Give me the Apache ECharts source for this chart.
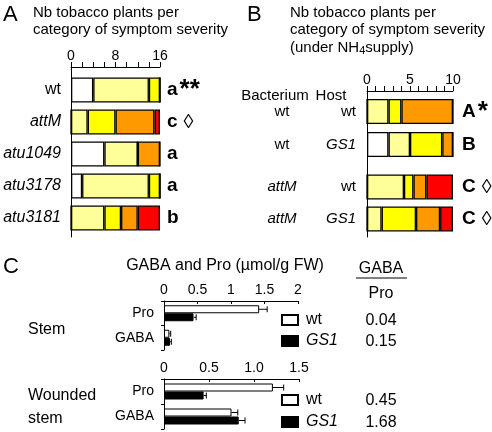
<!DOCTYPE html>
<html><head><meta charset="utf-8">
<script src="https://cdn.jsdelivr.net/npm/echarts@6/dist/echarts.min.js"></script>
<style>html,body{margin:0;padding:0;background:#fff}#c{width:492px;height:432px}</style>
</head><body><div id="c"></div>
<script>
// ---------- Panel A data ----------
const strainsA = ['wt', 'attM', 'atu1049', 'atu3178', 'atu3181'];
const whiteA  = [4, 0, 6, 2, 0];
const lightA  = [10, 3, 6, 12, 6];
const yellowA = [2, 5, 0, 2, 3];
const orangeA = [0, 7, 4, 0, 3];
const redA    = [0, 1, 0, 0, 4];
const lettersA = ['a', 'c', 'a', 'a', 'b'];
const marksA   = ['**', '◊', '', '', ''];
const ticksA = [0, 8, 16];

// ---------- Panel B data ----------
const bacteriumB = ['wt', 'wt', 'attM', 'attM'];
const hostB      = ['wt', 'GS1', 'wt', 'GS1'];
const whiteB  = [0, 2.5, 0, 0];
const lightB  = [2.5, 2.5, 4.3, 1.7];
const yellowB = [1.5, 3.75, 1.1, 4.0];
const orangeB = [6, 1.25, 1.5, 2.8];
const redB    = [0, 0, 3.1, 1.5];
const lettersB = ['A', 'B', 'C', 'C'];
const marksB   = ['*', '', '◊', '◊'];
const ticksB = [0, 5, 10];

// ---------- Panel C data ----------
const metabolites = ['Pro', 'GABA'];
const genotypes = ['wt', 'GS1'];
const stemWt     = [1.42, 0.08];
const stemWtErr  = [0.12, 0.02];
const stemGS1    = [0.44, 0.09];
const stemGS1Err = [0.04, 0.02];
const woundWt     = [1.21, 0.75];
const woundWtErr  = [0.12, 0.07];
const woundGS1    = [0.44, 0.83];
const woundGS1Err = [0.03, 0.07];
const ratioStem  = ['0.04', '0.15'];
const ratioWound = ['0.45', '1.68'];

// ---------- styles ----------
const FONT = '"Liberation Sans", Arial, Helvetica, sans-serif';
const SEV_COLORS = ['#ffffff', '#ffff99', '#ffff00', '#ff9900', '#ff0000'];
const BLACK = '#000';

const chart = echarts.init(document.getElementById('c'), null, {renderer: 'canvas'});

const isGene = s => s !== 'wt';
const hidden = {show: false};
function axisOnlyY(grid) {
  return {type: 'value', gridIndex: grid, min: 0, max: 1,
    axisLine: {show: true, lineStyle: {color: BLACK, width: 1}},
    axisTick: hidden, axisLabel: hidden, splitLine: hidden};
}
function topX(grid, max, interval, labels, tickLen, fmt) {
  return {type: 'value', gridIndex: grid, position: 'top', min: 0, max: max, interval: interval,
    axisLine: {show: true, onZero: false, lineStyle: {color: BLACK, width: 1}},
    axisTick: {show: true, length: tickLen, lineStyle: {color: BLACK, width: 1}},
    axisLabel: {show: true, color: BLACK, fontSize: 14, fontFamily: FONT, margin: 4,
      formatter: fmt || (v => labels.includes(v) ? String(v) : '')},
    splitLine: hidden};
}
function hiddenX(grid, max) {
  return {type: 'value', gridIndex: grid, min: 0, max: max, show: false, splitLine: hidden};
}
const rich = {
  n: {fontSize: 16, fontFamily: FONT, color: BLACK},
  i: {fontSize: 16, fontFamily: FONT, color: BLACK, fontStyle: 'italic'},
  b: {fontSize: 19, fontFamily: FONT, color: BLACK, fontWeight: 'bold'},
  s: {fontSize: 26, fontFamily: FONT, color: BLACK, fontWeight: 'bold', padding: [0, 0, 0, 2]},
  d: {fontSize: 20, fontFamily: FONT, color: BLACK, padding: [0, 0, 0, 6]},
  bac: {width: 44, align: 'center', fontSize: 15, fontFamily: FONT, color: BLACK},
  bacI: {width: 44, align: 'center', fontSize: 15, fontFamily: FONT, color: BLACK, fontStyle: 'italic'},
  host: {width: 52, align: 'right', fontSize: 15, fontFamily: FONT, color: BLACK},
  hostI: {width: 52, align: 'right', fontSize: 15, fontFamily: FONT, color: BLACK, fontStyle: 'italic'}
};
function markText(letter, mark) {
  let t = `{b|${letter}}`;
  if (mark === '◊') t += `{d|◊}`;
  else if (mark) t += `{s|${mark}}`;
  return t;
}
function rowB(k) {
  return `{${isGene(bacteriumB[k]) ? 'bacI' : 'bac'}|${bacteriumB[k]}}{${isGene(hostB[k]) ? 'hostI' : 'host'}|${hostB[k]}}`;
}
function catY(grid, cats, pos, fmt, margin) {
  return {type: 'category', gridIndex: grid, data: cats, inverse: true, position: pos,
    axisLine: hidden, axisTick: hidden, splitLine: hidden,
    axisLabel: {show: true, margin: margin, formatter: fmt, rich: rich, color: BLACK}};
}

const grids = [
  {left: 71, top: 67, width: 89, height: 170},   // 0 A axes
  {left: 71, top: 74, width: 89, height: 160},   // 1 A bars
  {left: 367, top: 91, width: 86, height: 146},  // 2 B axes
  {left: 367, top: 95, width: 86, height: 66},   // 3 B bars rows 0-1
  {left: 367, top: 171, width: 86, height: 64},  // 4 B bars rows 2-3
  {left: 164, top: 301, width: 134, height: 49}, // 5 C stem
  {left: 164, top: 379, width: 135, height: 50}  // 6 C wounded
].map(g => Object.assign({outerBoundsMode: 'none', containLabel: false}, g));

const xAxis = [
  topX(0, 16, 2, ticksA, 5),
  hiddenX(1, 16),
  topX(2, 10, 1, ticksB, 5),
  hiddenX(3, 10),
  hiddenX(4, 10),
  topX(5, 2, 0.5, null, 3, v => String(v)),
  topX(6, 1.5, 0.5, null, 3, v => v === 0 ? '0' : v.toFixed(1))
];
xAxis[5].axisTick.inside = true;
xAxis[6].axisTick.inside = true;

const rowsB0 = ['r0', 'r1'], rowsB1 = ['r2', 'r3'];
function metY(grid) {
  return {type: 'category', gridIndex: grid, data: metabolites, inverse: true,
    axisLine: {show: true, lineStyle: {color: BLACK, width: 1}},
    axisTick: {show: true, length: 3, lineStyle: {color: BLACK}},
    axisLabel: {show: true, color: BLACK, fontSize: 14, fontFamily: FONT, margin: 10},
    splitLine: hidden};
}
const yAxis = [
  axisOnlyY(0),                                                                      // 0
  catY(1, strainsA, 'left', v => isGene(v) ? `{i|${v}}` : `{n|${v}}`, 10),            // 1
  catY(1, strainsA, 'right', (v, i) => markText(lettersA[i], marksA[i]), 7),         // 2
  axisOnlyY(2),                                                                      // 3
  catY(3, rowsB0, 'left', (v, i) => rowB(i), 11),                                    // 4
  catY(3, rowsB0, 'right', (v, i) => markText(lettersB[i], marksB[i]), 9),           // 5
  catY(4, rowsB1, 'left', (v, i) => rowB(i + 2), 11),                                // 6
  catY(4, rowsB1, 'right', (v, i) => markText(lettersB[i + 2], marksB[i + 2]), 9),   // 7
  metY(5),                                                                           // 8
  metY(6)                                                                            // 9
];

const series = [];
[whiteA, lightA, yellowA, orangeA, redA].forEach((arr, k) => series.push({
  type: 'bar', name: 'A' + k, xAxisIndex: 1, yAxisIndex: 1, stack: 'A', barWidth: 25,
  data: arr, silent: true,
  itemStyle: {color: SEV_COLORS[k], borderColor: BLACK, borderWidth: 1.3}
}));
[whiteB, lightB, yellowB, orangeB, redB].forEach((arr, k) => {
  series.push({type: 'bar', name: 'B' + k, xAxisIndex: 3, yAxisIndex: 4, stack: 'B1', barWidth: 25,
    data: arr.slice(0, 2), silent: true,
    itemStyle: {color: SEV_COLORS[k], borderColor: BLACK, borderWidth: 1.3}});
  series.push({type: 'bar', name: 'B' + k, xAxisIndex: 4, yAxisIndex: 6, stack: 'B2', barWidth: 25,
    data: arr.slice(2, 4), silent: true,
    itemStyle: {color: SEV_COLORS[k], borderColor: BLACK, borderWidth: 1.3}});
});
function cBar(name, x, y, vals, fill) {
  return {type: 'bar', name: name, xAxisIndex: x, yAxisIndex: y, barWidth: 8, barGap: '0%',
    data: vals, silent: true,
    itemStyle: {color: fill, borderColor: BLACK, borderWidth: 1}};
}
function errSeries(x, y, vals, errs, offset) {
  return {type: 'custom', xAxisIndex: x, yAxisIndex: y, silent: true, z: 3,
    data: vals.map((v, i) => [v, i, v + errs[i]]),
    encode: {x: [0, 2], y: 1},
    renderItem(params, api) {
      const p0 = api.coord([api.value(0), api.value(1)]);
      const p1 = api.coord([api.value(2), api.value(1)]);
      const yy = p0[1] + offset;
      return {type: 'group', children: [
        {type: 'line', shape: {x1: p0[0], y1: yy, x2: p1[0], y2: yy}, style: {stroke: BLACK, lineWidth: 1}},
        {type: 'line', shape: {x1: p1[0], y1: yy - 3, x2: p1[0], y2: yy + 3}, style: {stroke: BLACK, lineWidth: 1}}
      ]};
    }};
}
series.push(cBar(genotypes[0], 5, 8, stemWt, '#fff'));
series.push(cBar(genotypes[1], 5, 8, stemGS1, '#000'));
series.push(errSeries(5, 8, stemWt, stemWtErr, -4));
series.push(errSeries(5, 8, stemGS1, stemGS1Err, 4));
series.push(cBar(genotypes[0], 6, 9, woundWt, '#fff'));
series.push(cBar(genotypes[1], 6, 9, woundGS1, '#000'));
series.push(errSeries(6, 9, woundWt, woundWtErr, -4));
series.push(errSeries(6, 9, woundGS1, woundGS1Err, 4));

function legendAt(top, name) {
  return {show: true, left: 281, top: top, orient: 'horizontal', padding: 0,
    itemWidth: 16, itemHeight: 10, icon: 'rect', selectedMode: false, data: [name],
    formatter: n => isGene(n) ? `{i|${n}}` : `{n|${n}}`,
    textStyle: {color: BLACK, fontSize: 16, fontFamily: FONT, padding: [0, 0, 0, 3], rich: rich}};
}

function txt(x, y, text, size, opts) {
  return Object.assign({type: 'text', x: x, y: y, silent: true,
    style: Object.assign({text: text, fontSize: size, fontFamily: FONT, fill: BLACK,
      textAlign: 'left', textVerticalAlign: 'middle', align: 'left', verticalAlign: 'middle'}, (opts || {}))});
}
function ctxt(x, y, text, size, opts) {
  return txt(x, y, text, size, Object.assign({textAlign: 'center', align: 'center'}, opts || {}));
}
const graphic = [
  txt(3, 15, 'A', 22),
  txt(33, 13, 'Nb tobacco plants per', 15),
  txt(33, 30, 'category of symptom severity', 15),
  txt(247, 15, 'B', 22),
  txt(290, 13, 'Nb tobacco plants per', 15),
  txt(290, 30, 'category of symptom severity', 15),
  txt(290, 48, '(under NH{sub|4}supply)', 15, {rich: {sub: {fontSize: 11, fontFamily: FONT, fill: BLACK, padding: [6, 0, 0, 0]}}}),
  ctxt(275, 96, 'Bacterium', 15),
  ctxt(331, 96, 'Host', 15),
  txt(3, 267, 'C', 22),
  ctxt(225, 266, 'GABA and Pro (µmol/g FW)', 16),
  txt(28, 330, 'Stem', 16),
  txt(28, 396, 'Wounded', 16),
  txt(28, 419, 'stem', 16),
  ctxt(381, 269, 'GABA', 16),
  {type: 'line', silent: true, shape: {x1: 356, y1: 278, x2: 407, y2: 278}, style: {stroke: BLACK, lineWidth: 1}},
  ctxt(381, 294, 'Pro', 16),
  ctxt(381, 321, ratioStem[0], 16),
  ctxt(381, 342, ratioStem[1], 16),
  ctxt(381, 401, ratioWound[0], 16),
  ctxt(381, 423, ratioWound[1], 16)
];

chart.setOption({
  animation: false,
  backgroundColor: '#fff',
  textStyle: {fontFamily: FONT},
  grid: grids,
  xAxis: xAxis,
  yAxis: yAxis,
  legend: [legendAt(312, genotypes[0]), legendAt(333, genotypes[1]),
           legendAt(392, genotypes[0]), legendAt(414, genotypes[1])],
  series: series,
  graphic: graphic
});
</script>
</body></html>
